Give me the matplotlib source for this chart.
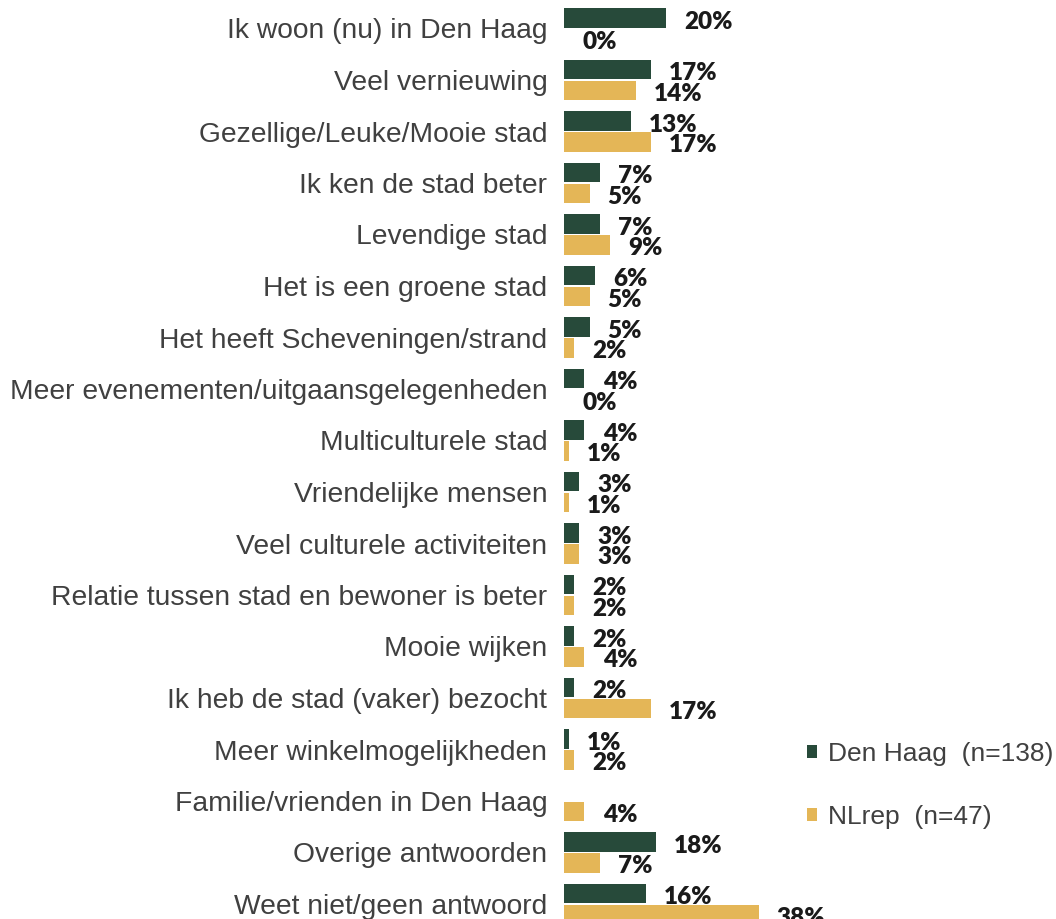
import matplotlib.pyplot as plt
import numpy as np

categories = [
    'Ik woon (nu) in Den Haag',
    'Veel vernieuwing',
    'Gezellige/Leuke/Mooie stad',
    'Ik ken de stad beter',
    'Levendige stad',
    'Het is een groene stad',
    'Het heeft Scheveningen/strand',
    'Meer evenementen/uitgaansgelegenheden',
    'Multiculturele stad',
    'Vriendelijke mensen',
    'Veel culturele activiteiten',
    'Relatie tussen stad en bewoner is beter',
    'Mooie wijken',
    'Ik heb de stad (vaker) bezocht',
    'Meer winkelmogelijkheden',
    'Familie/vrienden in Den Haag',
    'Overige antwoorden',
    'Weet niet/geen antwoord',
]
den_haag = [20, 17, 13, 7, 7, 6, 5, 4, 4, 3, 3, 2, 2, 2, 1, None, 18, 16]
nlrep = [0, 14, 17, 5, 9, 5, 2, 0, 1, 1, 3, 2, 4, 17, 2, 4, 7, 38]
series_names = ['Den Haag  (n=138)', 'NLrep  (n=47)']

green = '#274a3a'
gold = '#e4b657'

fig = plt.figure(figsize=(10.56, 9.19), dpi=100)
ax = fig.add_axes([564/1056, 0, 1 - 564/1056, 1])

y = np.arange(len(categories))
h = 0.38
off = 0.2

def draw(vals, dy, color, label):
    for i, v in enumerate(vals):
        if v is None:
            continue
        ax.barh(y[i] + dy, v, height=h, color=color, label=label if i == 0 else None)
        ax.annotate(f'{v}%', (v, y[i] + dy), xytext=(13, -2.5), textcoords='offset points',
                    ha='left', va='center', fontsize=17.5, fontweight='heavy',
                    family='Lato', color='#1a1a1a')

draw(den_haag, -off, green, series_names[0])
draw(nlrep, off, gold, series_names[1])

ax.set_xlim(0, 492 / 5.12)
ax.set_ylim((919 - 28.5) / 51.5, -28.5 / 51.5)
ax.set_yticks(y)
ax.set_yticklabels(categories, fontsize=20.3, family='Liberation Sans', color='#404040')
ax.tick_params(axis='y', length=0, pad=12)
ax.set_xticks([])
for s in ax.spines.values():
    s.set_visible(False)

leg = ax.legend(loc='upper left', bbox_to_anchor=(783/1056, 1 - 718/919), bbox_transform=fig.transFigure,
                frameon=False, handlelength=0.4, handleheight=0.4,
                handletextpad=0.4, labelspacing=1.48,
                prop={'family': 'Liberation Sans', 'size': 19})
for t in leg.get_texts():
    t.set_color('#404040')

fig.savefig('out.png', dpi=100)
